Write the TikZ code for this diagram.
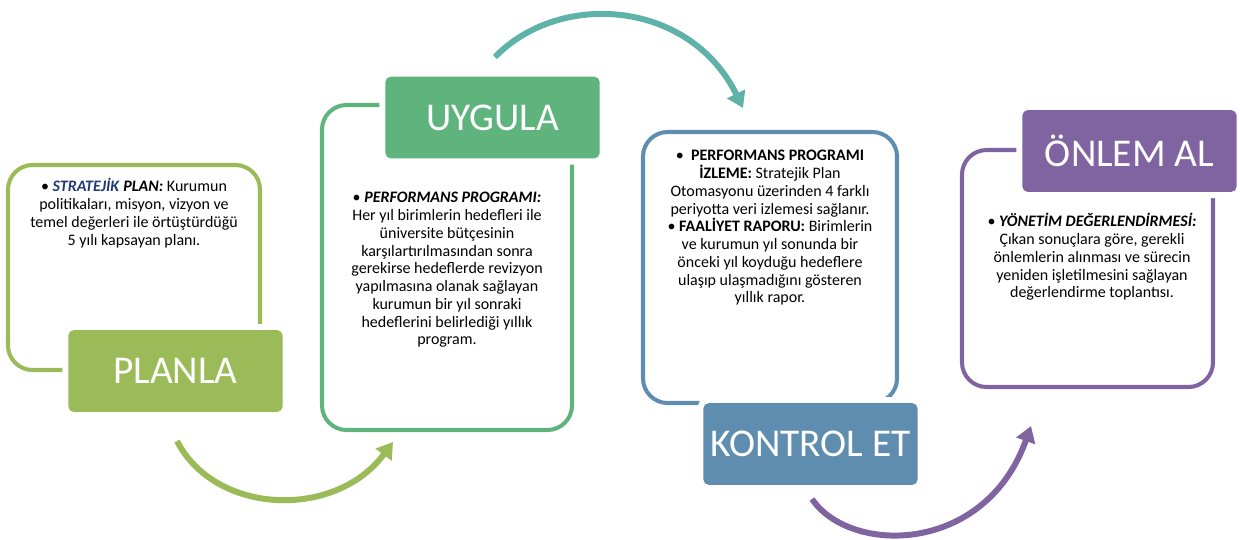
\documentclass[tikz,border=0pt]{standalone}
\usepackage{fontspec}
\setmainfont{Carlito}
\usetikzlibrary{arrows.meta}
\definecolor{cPlan}{HTML}{9BBB59}
\definecolor{cDo}{HTML}{5FB47E}
\definecolor{cTeal}{HTML}{5EB2A8}
\definecolor{cCheck}{HTML}{5F8DB0}
\definecolor{cAct}{HTML}{8064A2}
\definecolor{cNavy}{HTML}{1F3A7A}
\begin{document}
\begin{tikzpicture}[x=0.02cm,y=-0.02cm,
  frame/.style={draw=#1, line width=2.3pt, rounded corners=14pt},
  tag/.style={fill=#1, preaction={draw=white, line width=7pt}, rounded corners=3pt,
    minimum width=121.9pt, minimum height=46.5pt, inner sep=0pt, text=white,
    font=\fontsize{22.4}{26}\selectfont},
  body/.style={align=center, font=\fontsize{9.1}{10.1}\selectfont, inner sep=0pt},
  cyc/.style={draw=#1, line width=3.4pt, -{Triangle[length=9pt,width=11pt]}}]
\useasboundingbox (0,0) rectangle (1240,539);

% frames
\draw[frame=cPlan] (8,165) rectangle (260,370);
\draw[frame=cDo] (322,105) rectangle (572,430);
\draw[frame=cCheck] (643,132) rectangle (897,403);
\draw[frame=cAct] (962,150) rectangle (1213,387);

% tags
\node[tag=cPlan] (planla) at (175.5,371) {PLANLA};
\node[tag=cDo] (uygula) at (492.5,117.5) {UYGULA};
\node[tag=cCheck] (kontrol) at (810.5,444) {KONTROL ET};
\node[tag=cAct] (onlem) at (1129.5,151) {ÖNLEM AL};

% texts
\node[body] (t1) at (134,213) {• \textcolor{cNavy}{\textbf{\textit{STRATEJİK}}} \textbf{\textit{PLAN:}} Kurumun\\
politikaları, misyon, vizyon ve\\
temel değerleri ile örtüştürdüğü\\
5 yılı kapsayan planı.};

\node[body] (t2) at (447,270) {• \textbf{\textit{PERFORMANS PROGRAMI:}}\\
Her yıl birimlerin hedefleri ile\\
üniversite bütçesinin\\
karşılartırılmasından sonra\\
gerekirse hedeflerde revizyon\\
yapılmasına olanak sağlayan\\
kurumun bir yıl sonraki\\
hedeflerini belirlediği yıllık\\
program.};

\node[body] (t3) at (770,228) {•\ \ \textbf{PERFORMANS PROGRAMI}\\
\textbf{İZLEME:} Stratejik Plan\\
Otomasyonu üzerinden 4 farklı\\
periyotta veri izlemesi sağlanır.\\
• \textbf{FAALİYET RAPORU:} Birimlerin\\
ve kurumun yıl sonunda bir\\
önceki yıl koyduğu hedeflere\\
ulaşıp ulaşmadığını gösteren\\
yıllık rapor.};

\node[body] (t4) at (1092,257) {• \textbf{\textit{YÖNETİM DEĞERLENDİRMESİ:}}\\
Çıkan sonuçlara göre, gerekli\\
önlemlerin alınması ve sürecin\\
yeniden işletilmesini sağlayan\\
değerlendirme toplantısı.};

% cycle arrows
\coordinate (a1s) at (177,441);
\coordinate (a1e) at (393,442);
\coordinate (a2s) at (495,57);
\coordinate (a2e) at (743,108);
\coordinate (a3s) at (812,499);
\coordinate (a3e) at (1031,426);
\draw[cyc=cPlan] (a1s) .. controls (215,515) and (335,520) .. (a1e);
\draw[cyc=cTeal] (a2s) .. controls (560,-10) and (690,0) .. (a2e);
\draw[cyc=cAct] (a3s) .. controls (850,555) and (985,555) .. (a3e);
\end{tikzpicture}
\end{document}
